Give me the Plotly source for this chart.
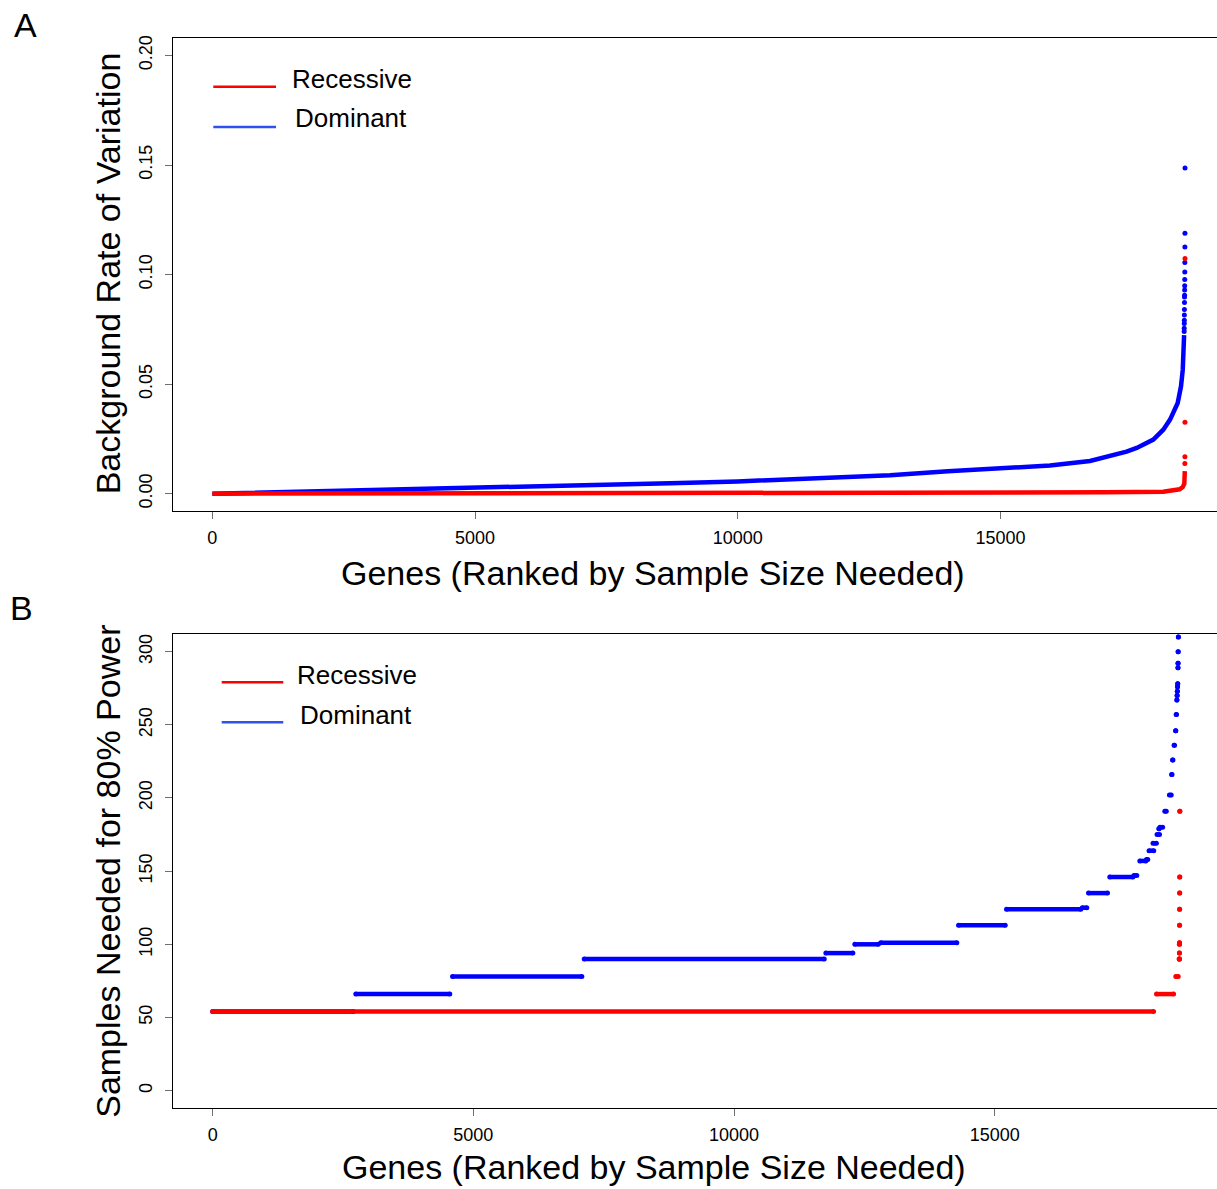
import plotly.graph_objects as go

W, H = 1217, 1189
FONT = "Liberation Sans, Arial, Helvetica, sans-serif"
RED = "#ff0000"
BLUE = "#0000ff"

# ---------------- Panel A: background rate of variation per gene ----------------
# dense band of the dominant model (rank, rate)
a_dom_rank = [1, 1000, 1727, 3636, 5539, 7442, 8711, 10000, 11500, 12900, 14000,
              15180, 15944, 16705, 17085, 17400, 17594, 17910, 18100, 18228,
              18374, 18437, 18470, 18486, 18496]
a_dom_rate = [0.0, 0.0005, 0.0009, 0.0023, 0.0031, 0.0040, 0.0048, 0.0056, 0.0068,
              0.0084, 0.0102, 0.0118, 0.0129, 0.0149, 0.0172, 0.0192, 0.0209,
              0.0247, 0.0292, 0.0338, 0.0414, 0.0490, 0.0565, 0.0650, 0.0724]
# isolated genes at the top of the dominant ranking
a_dom_tail_rank = [18497, 18498, 18499, 18500, 18501, 18502, 18503, 18504, 18505,
                   18506, 18507, 18508, 18509, 18510, 18511, 18512, 18513]
a_dom_tail_rate = [0.0740, 0.0755, 0.0777, 0.0792, 0.0815, 0.0841, 0.0873, 0.0898,
                   0.0906, 0.0929, 0.0949, 0.0977, 0.1012, 0.1055, 0.1126, 0.1188,
                   0.1486]
# dense band of the recessive model
a_rec_rank = [1, 15000, 15280, 17000, 18100, 18410, 18470, 18500, 18509]
a_rec_rate = [0.0, 0.0001, 0.0004, 0.0006, 0.0009, 0.0020, 0.0030, 0.0045, 0.0103]
a_rec_tail_rank = [18510, 18511, 18512, 18513]
a_rec_tail_rate = [0.0138, 0.0168, 0.0326, 0.1073]

a_xticks = [0, 5000, 10000, 15000]
a_xlabels = ["0", "5000", "10000", "15000"]
a_yticks = [0.0, 0.05, 0.10, 0.15, 0.20]
a_ylabels = ["0.00", "0.05", "0.10", "0.15", "0.20"]

# ---------------- Panel B: samples needed for 80% power ----------------
# runs of consecutive genes sharing the same sample size: (size, first rank, last rank)
b_dom_size = [54, 66, 78, 90, 94, 100, 101, 113, 124, 125, 135, 146, 147, 157, 158,
              164, 169, 175, 179, 180, 191, 202, 216, 226, 236, 246, 257, 267, 270,
              273, 276, 278, 289, 292, 300, 310]
b_dom_first = [1, 2746, 4601, 7127, 11761, 12317, 12816, 14306, 15226, 16680, 16799,
               17207, 17670, 17783, 17910, 17960, 18036, 18113, 18150, 18170, 18262,
               18350, 18392, 18410, 18440, 18468, 18480, 18494, 18498, 18502, 18506,
               18510, 18514, 18516, 18518, 18522]
b_dom_last = [2700, 4549, 7081, 11730, 12279, 12766, 14273, 15201, 16650, 16766, 17163,
              17650, 17725, 17897, 17935, 18050, 18100, 18160, 18150, 18220, 18290,
              18385, 18400, 18418, 18448, 18474, 18486, 18494, 18498, 18502, 18506,
              18510, 18514, 18516, 18518, 18522]

b_rec_size = [54, 66, 78, 90, 90, 94, 100, 101, 113, 124, 135, 146, 191]
b_rec_first = [1, 18103, 18473, 18540, 18541, 18542, 18543, 18544, 18545, 18546,
               18547, 18548, 18550]
b_rec_last = [18046, 18430, 18519, 18540, 18541, 18542, 18543, 18544, 18545, 18546,
              18547, 18548, 18550]

b_xticks = [0, 5000, 10000, 15000]
b_xlabels = ["0", "5000", "10000", "15000"]
b_yticks = [0, 50, 100, 150, 200, 250, 300]
b_ylabels = ["0", "50", "100", "150", "200", "250", "300"]

legend_names = ["Recessive", "Dominant"]
x_title = "Genes (Ranked by Sample Size Needed)"
a_y_title = "Background Rate of Variation"
b_y_title = "Samples Needed for 80% Power"


def runs_xy(first, last, size):
    xs, ys = [], []
    for f, l, s in zip(first, last, size):
        xs += [f, l, None]
        ys += [s, s, None]
    return xs, ys


def px(x):
    return x / W


def py(y):
    return 1 - y / H


fig = go.Figure()

# Panel A traces (recessive drawn over dominant)
fig.add_trace(go.Scatter(x=a_dom_rank, y=a_dom_rate, mode="lines",
                         line=dict(color=BLUE, width=4.5), xaxis="x", yaxis="y"))
fig.add_trace(go.Scatter(x=a_dom_tail_rank, y=a_dom_tail_rate, mode="markers",
                         marker=dict(color=BLUE, size=5, line=dict(width=0)),
                         xaxis="x", yaxis="y"))
fig.add_trace(go.Scatter(x=a_rec_rank, y=a_rec_rate, mode="lines",
                         line=dict(color=RED, width=4.5), xaxis="x", yaxis="y"))
fig.add_trace(go.Scatter(x=a_rec_tail_rank, y=a_rec_tail_rate, mode="markers",
                         marker=dict(color=RED, size=5, line=dict(width=0)),
                         xaxis="x", yaxis="y"))

# Panel B traces
dx, dy = runs_xy(b_dom_first, b_dom_last, b_dom_size)
fig.add_trace(go.Scatter(x=dx, y=dy, mode="lines+markers",
                         line=dict(color=BLUE, width=4.5),
                         marker=dict(color=BLUE, size=5, line=dict(width=0)),
                         xaxis="x2", yaxis="y2"))
rx, ry = runs_xy(b_rec_first, b_rec_last, b_rec_size)
fig.add_trace(go.Scatter(x=rx, y=ry, mode="lines+markers",
                         line=dict(color=RED, width=4.5),
                         marker=dict(color=RED, size=5, line=dict(width=0)),
                         xaxis="x2", yaxis="y2"))

xdom = [173 / W, 1.0]
adom = [py(509.5), py(35)]
bdom = [py(1108), py(632.7)]

common_x = dict(showline=True, linecolor="black", linewidth=1, mirror=True,
                ticks="outside", ticklen=7, tickcolor="#707070", tickwidth=1,
                showgrid=False, zeroline=False,
                tickfont=dict(family=FONT, size=18, color="black"),
                ticklabelstandoff=3)
common_y = dict(showline=True, linecolor="black", linewidth=1, mirror=False,
                ticks="outside", ticklen=7, tickcolor="#707070", tickwidth=1,
                showgrid=False, zeroline=False, tickangle=-90,
                tickfont=dict(family=FONT, size=18, color="black"),
                ticklabelstandoff=6)

fig.update_layout(
    width=W, height=H,
    margin=dict(l=0, r=0, t=0, b=0),
    paper_bgcolor="white", plot_bgcolor="white",
    showlegend=False,
    xaxis=dict(domain=xdom, range=[-748, 19122], anchor="y",
               tickvals=a_xticks, ticktext=a_xlabels, **common_x),
    yaxis=dict(domain=adom, range=[-0.008, 0.208], anchor="x",
               tickvals=a_yticks, ticktext=a_ylabels, **common_y),
    xaxis2=dict(domain=xdom, range=[-760, 19263], anchor="y2",
                tickvals=b_xticks, ticktext=b_xlabels, **common_x),
    yaxis2=dict(domain=bdom, range=[-12, 312], anchor="x2",
                tickvals=b_yticks, ticktext=b_ylabels, **common_y),
)

shapes = []
annotations = []


def legend(line_x0, line_x1, rows):
    for (ly, color, label, tx, ty) in rows:
        shapes.append(dict(type="line", xref="paper", yref="paper",
                           x0=px(line_x0), x1=px(line_x1), y0=py(ly), y1=py(ly),
                           line=dict(color=color, width=2.5)))
        annotations.append(dict(text=label, xref="paper", yref="paper",
                                x=px(tx), y=py(ty), xanchor="left", yanchor="middle",
                                showarrow=False,
                                font=dict(family=FONT, size=26, color="black")))


legend(213.3, 276, [(84, RED, legend_names[0], 290, 76),
                    (124.3, "#3050f0", legend_names[1], 293, 115)])
legend(221.7, 283.3, [(681, RED, legend_names[0], 295, 674),
                      (721, "#3050f0", legend_names[1], 298, 713.5)])


def text(t, x, y, size, angle=0):
    annotations.append(dict(text=t, xref="paper", yref="paper", x=px(x), y=py(y),
                            xanchor="center", yanchor="middle", showarrow=False,
                            textangle=angle,
                            font=dict(family=FONT, size=size, color="black")))


text("A", 25, 22, 34)
text("B", 21, 607, 34)
text(x_title, 653, 571, 34)
text(x_title, 654, 1167, 34)
text(a_y_title, 108, 271, 34, -90)
text(b_y_title, 108, 871, 34, -90)

fig.update_layout(shapes=shapes, annotations=annotations)
fig.write_html("out.html")
